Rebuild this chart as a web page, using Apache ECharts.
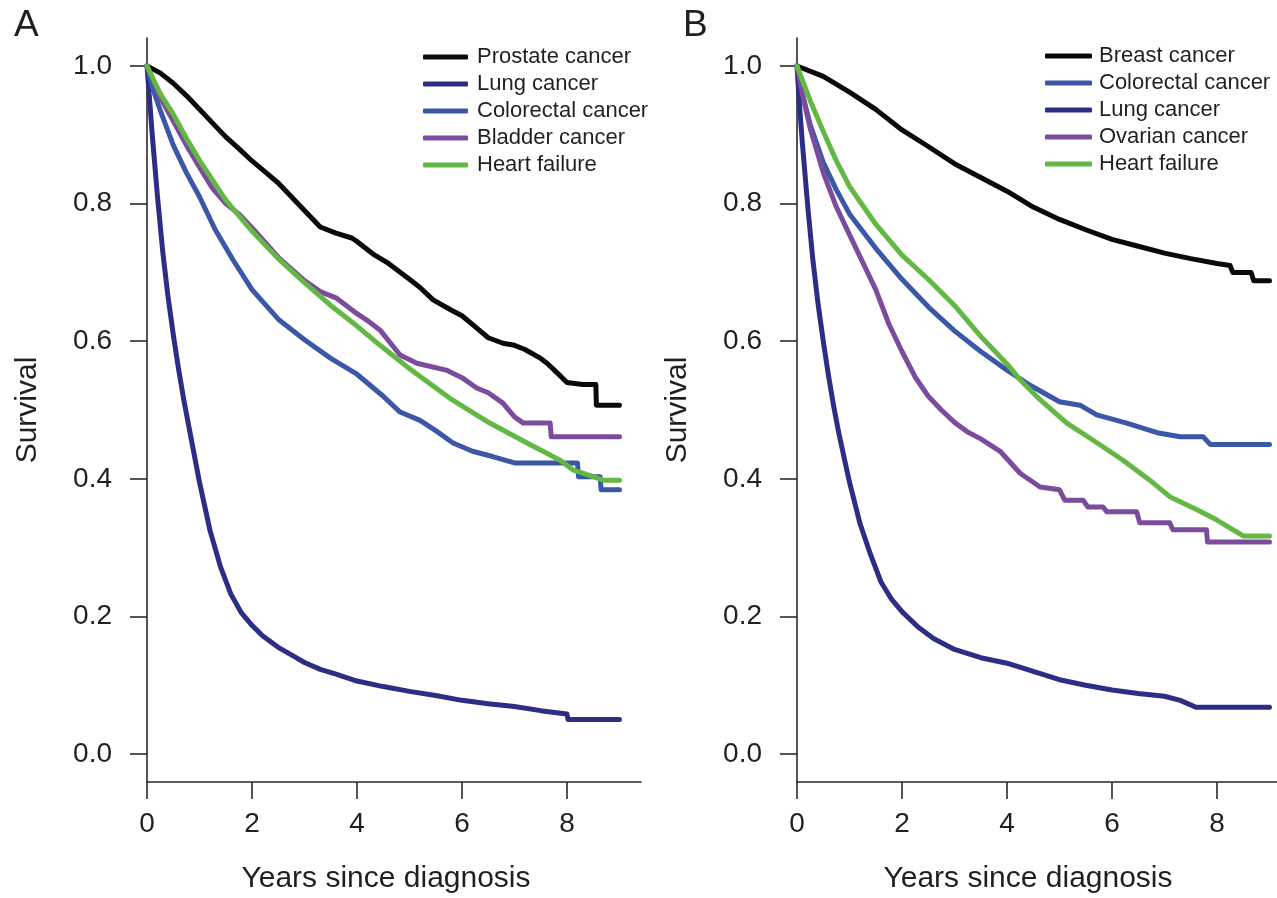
<!DOCTYPE html>
<html><head><meta charset="utf-8">
<script src="https://cdn.jsdelivr.net/npm/echarts@6/dist/echarts.min.js"></script>
<style>html,body{margin:0;padding:0;background:#fff}#c{width:1277px;height:898px}</style>
</head><body><div id="c"></div>
<script>
// ---------- Panel A data (years since diagnosis, survival) ----------
const prostateA_t = [0,0.25,0.5,0.75,1.0,1.25,1.5,1.75,2.0,2.25,2.5,2.75,3.0,3.3,3.6,3.9,4.0,4.3,4.6,5.0,5.2,5.45,5.8,6.0,6.3,6.5,6.78,7.0,7.2,7.5,7.62,7.8,8.0,8.3,8.55,8.56,9.0];
const prostateA_s = [1.0,0.99,0.975,0.957,0.937,0.917,0.897,0.88,0.862,0.846,0.83,0.81,0.79,0.766,0.757,0.75,0.745,0.727,0.713,0.69,0.678,0.66,0.645,0.637,0.618,0.605,0.597,0.594,0.588,0.575,0.568,0.555,0.54,0.537,0.537,0.507,0.507];
const lungA_t = [0,0.05,0.1,0.2,0.3,0.4,0.5,0.6,0.7,0.8,0.9,1.0,1.2,1.4,1.6,1.8,2.0,2.2,2.5,2.8,3.0,3.3,3.6,4.0,4.5,5.0,5.5,6.0,6.5,7.0,7.5,7.8,8.0,8.02,9.0];
const lungA_s = [1.0,0.95,0.9,0.81,0.73,0.665,0.61,0.56,0.515,0.475,0.435,0.395,0.325,0.272,0.232,0.205,0.187,0.172,0.155,0.142,0.133,0.123,0.116,0.106,0.098,0.091,0.085,0.078,0.073,0.069,0.063,0.06,0.058,0.05,0.05];
const colorectalA_t = [0,0.1,0.25,0.5,0.75,1.0,1.3,1.64,2.0,2.5,3.0,3.5,4.0,4.5,4.82,5.2,5.5,5.83,6.2,6.6,7.0,8.2,8.22,8.63,8.65,9.0];
const colorectalA_s = [1.0,0.97,0.936,0.885,0.845,0.81,0.762,0.718,0.675,0.632,0.602,0.575,0.552,0.52,0.497,0.485,0.47,0.452,0.44,0.432,0.423,0.423,0.403,0.403,0.384,0.384];
const bladderA_t = [0,0.25,0.5,0.75,1.0,1.25,1.5,1.75,2.0,2.5,3.0,3.3,3.6,4.0,4.2,4.44,4.82,5.14,5.7,6.0,6.28,6.5,6.78,7.0,7.17,7.68,7.7,9.0];
const bladderA_s = [1.0,0.955,0.92,0.885,0.853,0.822,0.8,0.785,0.765,0.722,0.688,0.672,0.663,0.64,0.63,0.616,0.58,0.568,0.558,0.547,0.532,0.525,0.51,0.49,0.481,0.481,0.461,0.461];
const heartA_t = [0,0.25,0.5,0.75,1.0,1.5,2.0,2.5,3.0,3.5,4.0,4.44,4.95,5.77,6.53,7.24,7.87,8.11,8.5,8.69,9.0];
const heartA_s = [1.0,0.96,0.93,0.895,0.863,0.805,0.76,0.72,0.685,0.652,0.622,0.594,0.563,0.517,0.481,0.452,0.427,0.413,0.403,0.398,0.398];

// ---------- Panel B data ----------
const breastB_t = [0,0.5,1.0,1.5,2.0,2.5,3.0,3.5,4.0,4.5,5.0,5.5,6.0,6.5,7.0,7.5,8.0,8.25,8.3,8.65,8.7,9.0];
const breastB_s = [1.0,0.985,0.962,0.937,0.907,0.883,0.858,0.838,0.818,0.795,0.777,0.762,0.748,0.738,0.728,0.72,0.713,0.71,0.70,0.70,0.688,0.688];
const colorectalB_t = [0,0.1,0.25,0.5,0.75,1.0,1.5,2.0,2.5,3.0,3.5,4.0,4.44,5.0,5.39,5.71,6.28,6.86,7.3,7.74,7.87,9.0];
const colorectalB_s = [1.0,0.96,0.915,0.86,0.82,0.785,0.735,0.69,0.65,0.615,0.585,0.558,0.536,0.512,0.507,0.493,0.481,0.467,0.461,0.461,0.45,0.45];
const lungB_t = [0,0.05,0.1,0.2,0.3,0.4,0.5,0.6,0.7,0.8,0.9,1.0,1.2,1.4,1.6,1.8,2.0,2.3,2.6,3.0,3.5,4.0,4.5,5.0,5.5,6.0,6.5,7.0,7.3,7.6,9.0];
const lungB_s = [1.0,0.94,0.89,0.8,0.72,0.655,0.6,0.55,0.505,0.465,0.43,0.395,0.335,0.29,0.25,0.225,0.207,0.185,0.168,0.152,0.14,0.132,0.12,0.108,0.1,0.093,0.088,0.084,0.078,0.068,0.068];
const ovarianB_t = [0,0.1,0.25,0.5,0.75,1.0,1.25,1.5,1.75,2.0,2.25,2.5,2.75,3.0,3.25,3.5,3.87,4.25,4.63,5.0,5.1,5.45,5.54,5.83,5.9,6.47,6.53,7.1,7.16,7.8,7.82,9.0];
const ovarianB_s = [1.0,0.96,0.91,0.845,0.795,0.755,0.715,0.675,0.625,0.585,0.548,0.52,0.5,0.482,0.468,0.458,0.44,0.408,0.388,0.384,0.369,0.369,0.359,0.359,0.352,0.352,0.336,0.336,0.326,0.326,0.308,0.308];
const heartB_t = [0,0.25,0.5,0.75,1.0,1.5,2.0,2.5,3.0,3.5,4.0,4.25,4.63,5.14,5.64,6.21,6.72,7.1,7.62,8.0,8.3,8.5,9.0];
const heartB_s = [1.0,0.95,0.905,0.862,0.825,0.77,0.725,0.69,0.652,0.607,0.567,0.544,0.515,0.481,0.456,0.427,0.398,0.374,0.355,0.34,0.326,0.317,0.317];

const xTicks = [0,2,4,6,8];
const yTicks = [0,0.2,0.4,0.6,0.8,1.0];
const legendA = ['Prostate cancer','Lung cancer','Colorectal cancer','Bladder cancer','Heart failure'];
const legendB = ['Breast cancer','Colorectal cancer','Lung cancer','Ovarian cancer','Heart failure'];

const C = {black:'#0a0a0a', lung:'#2c2d84', colo:'#3b57a8', purple:'#7b4c9e', green:'#63b844'};
const FONT = '"Liberation Sans", Arial, Helvetica, sans-serif';
const AX = '#2a2a2a';

function pairs(t, s){ return t.map((v,i)=>[v, s[i]]); }

function xAxis(idx, xmax, padR){
  return {
    type:'value', gridIndex:idx, min:0, max:xmax,
    name:'Years since diagnosis', nameLocation:'middle', nameGap:82,
    nameTextStyle:{fontSize:30, color:'#231f20', fontFamily:FONT, padding:[0,padR,0,0]},
    axisLine:{show:true, onZero:false, lineStyle:{color:AX, width:1.6}},
    axisTick:{show:true, length:17, customValues:xTicks, lineStyle:{color:AX, width:1.6}},
    axisLabel:{show:true, margin:28, customValues:xTicks, fontSize:28, color:'#231f20', fontFamily:FONT},
    splitLine:{show:false}
  };
}
function yAxis(idx){
  return {
    type:'value', gridIndex:idx, min:-0.0407, max:1.0407,
    name:'Survival', nameLocation:'middle', nameGap:104,
    nameTextStyle:{fontSize:30, color:'#231f20', fontFamily:FONT},
    axisLine:{show:true, onZero:false, lineStyle:{color:AX, width:1.6}},
    axisTick:{show:true, length:17, customValues:yTicks, lineStyle:{color:AX, width:1.6}},
    axisLabel:{show:true, margin:35, customValues:yTicks, fontSize:28, color:'#231f20', fontFamily:FONT,
      formatter:v=>Number(v).toFixed(1)},
    splitLine:{show:false}
  };
}
function line(name, t, s, color, idx){
  return {
    type:'line', name:name, xAxisIndex:idx, yAxisIndex:idx, data:pairs(t,s),
    showSymbol:false, symbol:'none', color:color,
    lineStyle:{width:5, color:color, cap:'round', join:'round'},
    emphasis:{disabled:true}, silent:true
  };
}

const chart = echarts.init(document.getElementById('c'), null, {renderer:'canvas'});
chart.setOption({
  animation:false,
  backgroundColor:'#ffffff',
  grid:[
    {left:147, top:38, width:494, height:744, containLabel:false, outerBoundsMode:'none'},
    {left:797, top:38, width:494, height:744, containLabel:false, outerBoundsMode:'none'}
  ],
  xAxis:[xAxis(0, 9.41, 16), xAxis(1, 9.41, 32)],
  yAxis:[yAxis(0), yAxis(1)],
  legend:[
    {data:legendA, orient:'vertical', left:423, top:46, padding:0, itemGap:5,
     itemWidth:45, itemHeight:5, icon:'roundRect', selectedMode:false,
     textStyle:{fontSize:22, lineHeight:22, color:'#231f20', fontFamily:FONT, padding:[0,0,0,4]}},
    {data:legendB, orient:'vertical', left:1045, top:45, padding:0, itemGap:5,
     itemWidth:47, itemHeight:5, icon:'roundRect', selectedMode:false,
     textStyle:{fontSize:22, lineHeight:22, color:'#231f20', fontFamily:FONT, padding:[0,0,0,2]}}
  ],
  graphic:[
    {type:'text', left:14, top:7, style:{text:'A', fontSize:37, fill:'#231f20', fontFamily:FONT}},
    {type:'text', left:683, top:7, style:{text:'B', fontSize:37, fill:'#231f20', fontFamily:FONT}}
  ],
  series:[
    line('Prostate cancer', prostateA_t, prostateA_s, C.black, 0),
    line('Lung cancer', lungA_t, lungA_s, C.lung, 0),
    line('Colorectal cancer', colorectalA_t, colorectalA_s, C.colo, 0),
    line('Bladder cancer', bladderA_t, bladderA_s, C.purple, 0),
    line('Heart failure', heartA_t, heartA_s, C.green, 0),
    line('Breast cancer', breastB_t, breastB_s, C.black, 1),
    line('Colorectal cancer', colorectalB_t, colorectalB_s, C.colo, 1),
    line('Lung cancer', lungB_t, lungB_s, C.lung, 1),
    line('Ovarian cancer', ovarianB_t, ovarianB_s, C.purple, 1),
    line('Heart failure', heartB_t, heartB_s, C.green, 1)
  ]
});
</script></body></html>
